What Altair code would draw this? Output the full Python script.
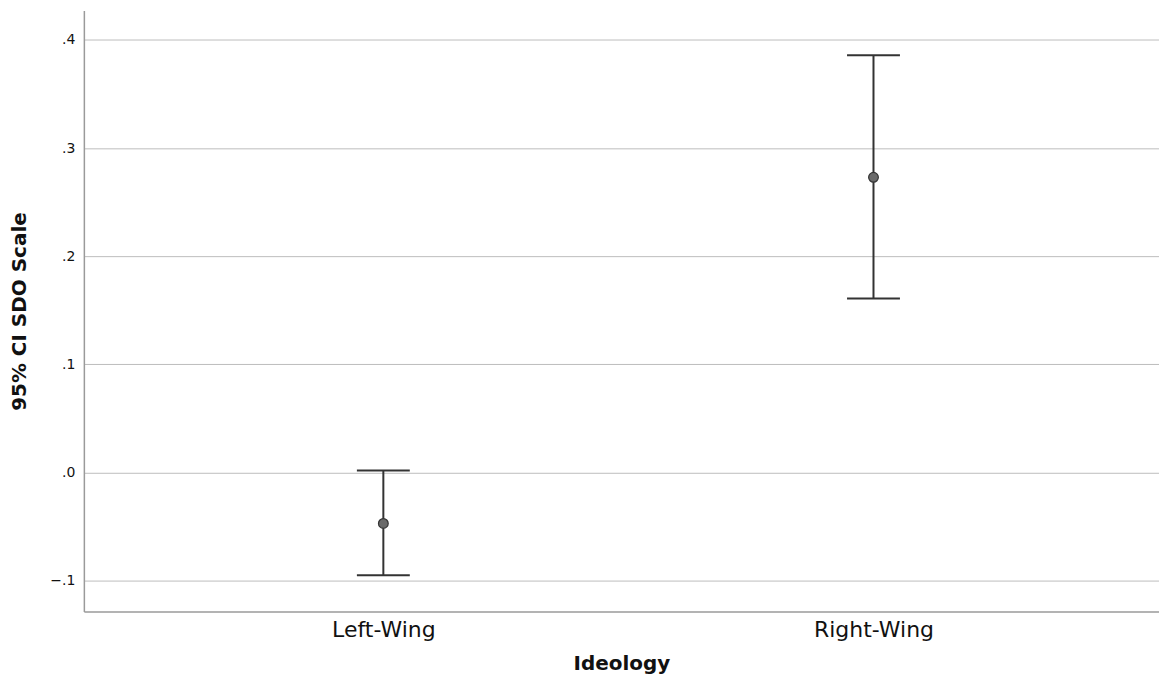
import altair as alt
import pandas as pd

categories = ["Left-Wing", "Right-Wing"]
means = [-0.047, 0.273]
lowers = [-0.095, 0.161]
uppers = [0.002, 0.386]

df = pd.DataFrame({"Ideology": categories, "idx": list(range(len(categories))),
                   "mean": means, "lo": lowers, "hi": uppers})

label_expr = " : ".join(
    [f"datum.value == {i} ? '{c}'" for i, c in enumerate(categories[:-1])]
    + [f"'{categories[-1]}'"])

FONT = "DejaVu Sans"
x = alt.X("idx:Q", title="Ideology",
          scale=alt.Scale(domain=[-0.611, 1.5825], nice=False, zero=False),
          axis=alt.Axis(values=list(range(len(categories))), labelExpr=label_expr,
                        labelAngle=0, ticks=False, tickSize=0, grid=False,
                        domainColor="#9a9a9a", domainWidth=1.5, labelFontSize=22,
                        labelColor="#111", labelPadding=8, titleFontSize=20,
                        titleFontWeight="bold", titlePadding=13, labelFont=FONT,
                        titleFont=FONT, titleColor="#111", labelFlush=False))
yscale = alt.Scale(domain=[-0.1285, 0.4272], nice=False, zero=False)
yaxis = alt.Axis(values=[-0.1, 0.0, 0.1, 0.2, 0.3, 0.4],
                 labelExpr="replace(format(datum.value, '.1f'), '0.', '.')",
                 ticks=False, tickSize=0, grid=True, gridColor="#bdbdbd", gridWidth=1,
                 domainColor="#9a9a9a", domainWidth=1.5, labelFontSize=14,
                 labelColor="#111", labelPadding=9, titleFontSize=20,
                 titleFontWeight="bold", titlePadding=20, labelFont=FONT,
                 titleFont=FONT, titleColor="#111")

base = alt.Chart(df)
rule = base.mark_rule(color="#333333", strokeWidth=2).encode(
    x=x, y=alt.Y("lo:Q", scale=yscale, axis=yaxis, title="95% CI SDO Scale"), y2="hi:Q")
cap_lo = base.mark_tick(color="#333333", thickness=2, size=53, opacity=1,
                        orient="horizontal").encode(
    x=x, y=alt.Y("lo:Q", scale=yscale))
cap_hi = base.mark_tick(color="#333333", thickness=2, size=53, opacity=1,
                        orient="horizontal").encode(
    x=x, y=alt.Y("hi:Q", scale=yscale))
pt = base.mark_circle(size=95, color="#6a6a6a", stroke="#333333", strokeWidth=1.2,
                      opacity=1).encode(x=x, y=alt.Y("mean:Q", scale=yscale))

chart = (rule + cap_lo + cap_hi + pt).properties(
    width=1077, height=602, background="white",
    padding={"left": 1, "top": 2, "right": 0, "bottom": 0},
).configure_view(stroke=None, strokeWidth=0)

chart.save("out.html", embed_options={"renderer": "svg", "actions": False})
